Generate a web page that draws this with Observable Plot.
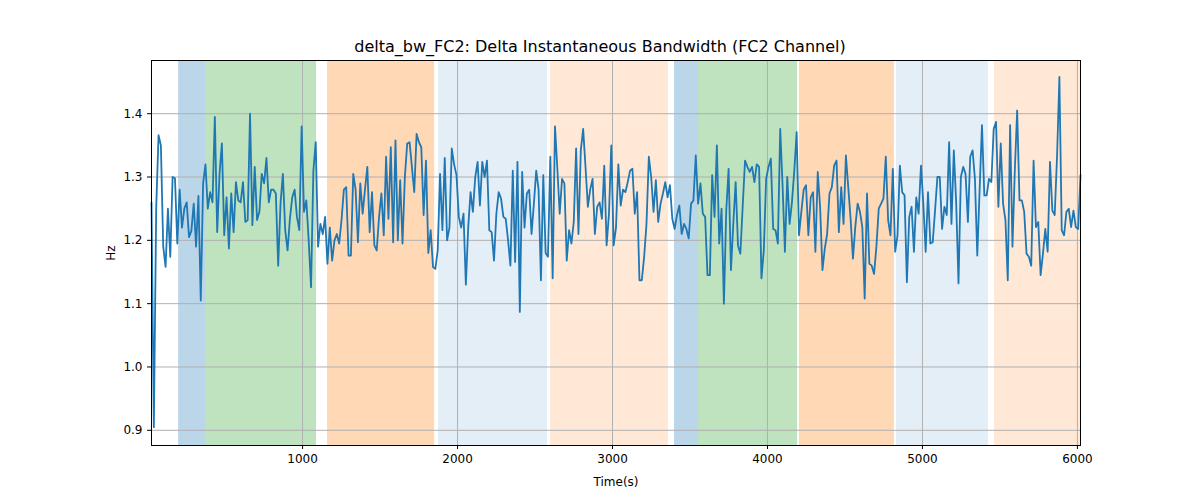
<!DOCTYPE html>
<html><head><meta charset="utf-8">
<script src="https://cdn.jsdelivr.net/npm/d3@7"></script>
<script src="https://cdn.jsdelivr.net/npm/@observablehq/plot@0.6"></script>
<style>
body{margin:0;background:#fff;font-family:"DejaVu Sans",sans-serif;}
#title{height:56px;display:flex;align-items:flex-end;justify-content:center;font-size:16px;color:#000;}
</style></head><body>
<div id="title">delta_bw_FC2: Delta Instantaneous Bandwidth (FC2 Channel)</div>
<div id="chart"></div>
<script>
const tStart = 25, tEnd = 6020;
const values = [
1.26,0.905,1.25,1.366,1.35,1.19,1.158,1.25,1.174,1.30,1.298,1.195,1.28,1.22,1.25,1.26,1.205,1.215,1.258,1.19,1.27,1.105,1.29,1.32,1.25,1.276,1.26,1.395,1.213,1.305,1.353,1.208,1.268,1.187,1.274,1.213,1.292,1.263,1.26,1.292,1.229,1.232,1.40,1.224,1.316,1.232,1.245,1.305,1.29,1.33,1.26,1.28,1.28,1.274,1.16,1.258,1.305,1.216,1.184,1.234,1.268,1.28,1.237,1.216,1.38,
1.245,1.263,1.2,1.126,1.31,1.355,1.19,1.226,1.21,1.237,1.163,1.22,1.168,1.2,1.21,1.195,1.232,1.28,1.284,1.176,1.176,1.305,1.28,1.197,1.29,1.242,1.28,1.316,1.213,1.276,1.192,1.184,1.237,1.274,1.208,1.332,1.234,1.347,1.197,1.358,1.2,1.295,1.195,1.3,1.353,1.355,1.316,1.276,1.368,1.355,1.347,1.24,1.326,1.18,1.216,1.158,1.155,1.184,1.305,1.216,1.33,1.2,1.22,1.345,1.32,
1.303,1.237,1.22,1.242,1.13,1.22,1.276,1.245,1.3,1.324,1.255,1.324,1.3,1.326,1.216,1.213,1.168,1.242,1.276,1.266,1.237,1.234,1.2,1.16,1.31,1.166,1.324,1.087,1.308,1.22,1.274,1.28,1.21,1.258,1.31,1.28,1.137,1.303,1.18,1.174,1.332,1.14,1.38,1.313,1.242,1.297,1.29,1.168,1.216,1.195,1.229,1.345,1.21,1.342,1.376,1.316,1.253,1.28,1.297,1.21,1.253,1.26,1.234,1.318,1.192,1.242,1.35,
1.192,1.22,1.32,1.255,1.28,1.276,1.292,1.31,1.313,1.242,1.276,1.137,1.137,1.174,1.226,1.332,1.3,1.245,1.295,1.229,1.258,1.274,1.292,1.268,1.287,1.234,1.218,1.24,1.255,1.21,1.226,1.218,1.203,1.258,1.263,1.334,1.258,1.29,1.242,1.237,1.145,1.145,1.303,1.237,1.35,1.195,1.25,1.1,1.247,1.313,1.153,1.226,1.292,1.192,1.179,1.253,1.326,1.316,1.308,1.316,1.292,1.32,1.316,1.14,1.184,1.297,1.316,
1.329,1.218,1.216,1.195,1.376,1.287,1.182,1.3,1.226,1.26,1.31,1.371,1.208,1.245,1.28,1.287,1.208,1.268,1.276,1.182,1.308,1.253,1.153,1.187,1.21,1.274,1.284,1.318,1.326,1.213,1.284,1.226,1.334,1.284,1.234,1.171,1.221,1.258,1.245,1.221,1.108,1.274,1.163,1.16,1.147,1.19,1.25,1.258,1.266,1.332,1.232,1.208,1.313,1.182,1.208,1.318,1.276,1.271,1.134,1.237,1.253,1.182,1.268,1.242,1.318,1.258,1.182,
1.276,1.195,1.197,1.247,1.3,1.3,1.218,1.253,1.24,1.355,1.226,1.342,1.26,1.132,1.3,1.316,1.305,1.229,1.332,1.342,1.297,1.176,1.28,1.382,1.271,1.271,1.297,1.292,1.376,1.387,1.253,1.353,1.258,1.232,1.137,1.382,1.19,1.31,1.405,1.263,1.263,1.245,1.179,1.174,1.16,1.326,1.221,1.229,1.145,1.179,1.218,1.182,1.324,1.247,1.24,1.332,1.458,1.216,1.208,1.245,1.25,1.221,1.247,1.221,1.218,1.303
];
const spanStart = [200, 374, 1161, 1877, 2600, 3400, 3555, 4206, 4832, 5465];
const spanEnd   = [374, 1090, 1852, 2581, 3361, 3555, 4194, 4819, 5426, 6020];
const spanColor = ["#1f77b4","#2ca02c","#ff7f0e","#1f77b4","#ff7f0e","#1f77b4","#2ca02c","#ff7f0e","#1f77b4","#ff7f0e"];
const spanAlpha = [0.3,0.3,0.3,0.12,0.17,0.3,0.3,0.3,0.12,0.17];
const xTicks = [1000,2000,3000,4000,5000,6000];
const yTicks = [0.9,1.0,1.1,1.2,1.3,1.4];

const step = (tEnd - tStart) / (values.length - 1);
const series = values.map((v, i) => ({t: tStart + i * step, v}));
const spans = spanStart.map((s, i) => ({x1: s, x2: spanEnd[i], c: spanColor[i], a: spanAlpha[i]}));

const chart = Plot.plot({
  width: 1200, height: 444,
  marginLeft: 151, marginRight: 120, marginTop: 4, marginBottom: 55,
  style: {fontFamily: "DejaVu Sans, sans-serif", fontSize: "12px", color: "#000", background: "#fff"},
  x: {domain: [tStart, tEnd], ticks: xTicks, tickFormat: d3.format("d"), label: "Time(s)", labelAnchor: "center", labelArrow: "none", labelOffset: 40, tickSize: 4},
  y: {domain: [0.876, 1.484], ticks: yTicks, tickFormat: d3.format(".1f"), label: "Hz", labelAnchor: "center", labelArrow: "none", labelOffset: 45, tickSize: 4},
  marks: [
    Plot.rect(spans, {x1: "x1", x2: "x2", fill: "c", fillOpacity: "a"}),
    Plot.gridX(xTicks, {stroke: "#b0b0b0", strokeOpacity: 1, strokeWidth: 1}),
    Plot.gridY(yTicks, {stroke: "#b0b0b0", strokeOpacity: 1, strokeWidth: 1}),
    Plot.line(series, {x: "t", y: "v", stroke: "#1f77b4", strokeWidth: 1.8}),
    Plot.frame({stroke: "#000", strokeWidth: 1})
  ]
});
document.getElementById("chart").appendChild(chart);
</script></body></html>
